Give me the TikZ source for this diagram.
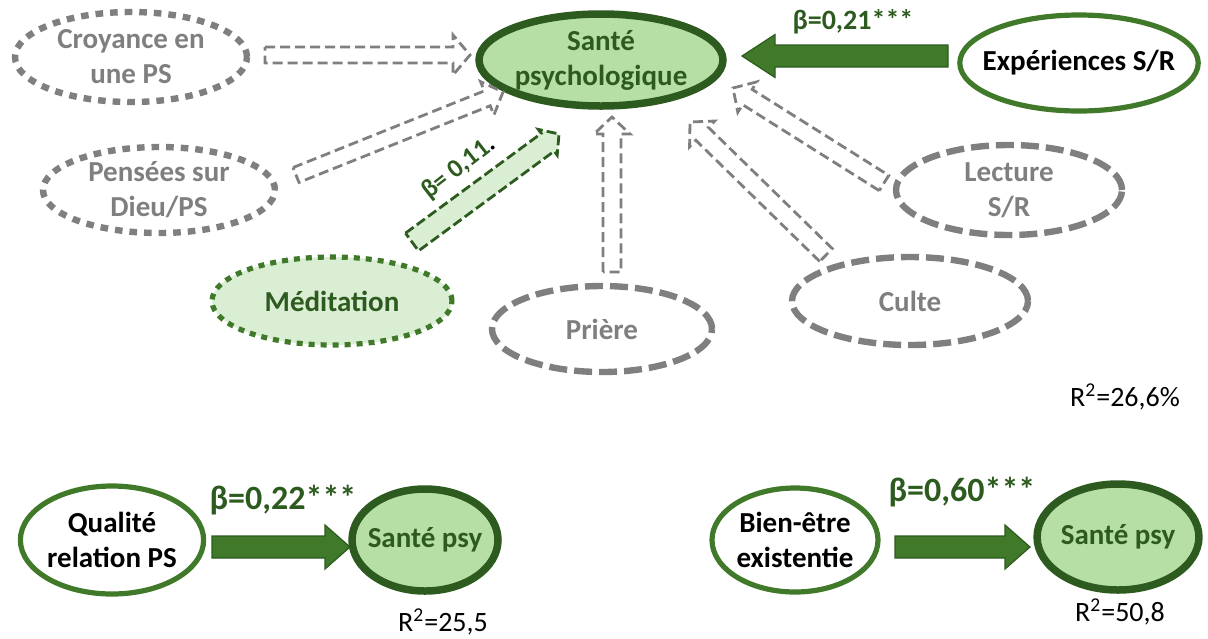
\documentclass[tikz,border=0pt]{standalone}
\usepackage{fontspec}
\setmainfont{Carlito}
\usetikzlibrary{calc,shapes.geometric}

\definecolor{darkgreen}{HTML}{2D5B1F}
\definecolor{midgreen}{HTML}{41792A}
\definecolor{palegreen}{HTML}{B6DFA6}
\definecolor{lightgreen}{HTML}{DAEED3}
\definecolor{faintgray}{HTML}{7F7F7F}

% block arrow: [style]{from}{to}{half shaft}{half head}{head length}
\newcommand{\blockarrow}[6][]{%
  \coordinate (ba-base) at ($(#3)!#6!(#2)$);
  \draw[#1] ($(#2)!#4!90:(#3)$) -- ($(ba-base)!#4!90:(#3)$) -- ($(ba-base)!#5!90:(#3)$)
    -- (#3) -- ($(ba-base)!#5!-90:(#3)$) -- ($(ba-base)!#4!-90:(#3)$) -- ($(#2)!#4!-90:(#3)$) -- cycle;}

\begin{document}
\begin{tikzpicture}[
    x=0.5pt, y=-0.5pt,
    var/.style={ellipse, inner sep=0pt, align=center, font=\bfseries\fontsize{14.5}{17.5}\selectfont},
    faintdots/.style={var, draw=faintgray, line width=3.2pt, dash pattern=on 3.8pt off 3.5pt, text=faintgray},
    faintdash/.style={var, draw=faintgray, line width=3.2pt, dash pattern=on 9pt off 3.5pt, text=faintgray},
    outcome/.style={var, draw=darkgreen, line width=3.75pt, fill=palegreen, text=darkgreen},
    predictor/.style={var, draw=midgreen, line width=2.6pt, fill=white},
    hollow/.style={draw=faintgray, line width=1.4pt, dash pattern=on 5pt off 2.5pt, fill=white},
    solidarr/.style={draw=darkgreen, fill=midgreen, line width=0.6pt},
    beta/.style={text=darkgreen, font=\bfseries\fontsize{14}{17}\selectfont},
    bigbeta/.style={text=darkgreen, font=\bfseries\fontsize{17}{20}\selectfont},
    rsq/.style={font=\fontsize{14}{17}\selectfont}
  ]
    \useasboundingbox (0,0) rectangle (1208,638);

    % top model
    \node[outcome, minimum width=116pt, minimum height=46pt]   (sante) at (601,60)  {Santé\\psychologique};
    \node[predictor, minimum width=119pt, minimum height=48pt, inner sep=-6pt] (exper) at (1079,63) {Expériences S/R};
    \node[faintdots, minimum width=116pt, minimum height=45pt] (croy)  at (131,57)  {Croyance en\\une PS};
    \node[faintdots, minimum width=116pt, minimum height=43pt] (pens)  at (159,190) {Pensées sur\\Dieu/PS};
    \node[var, draw=midgreen, line width=2.6pt, dash pattern=on 3pt off 3pt, fill=lightgreen, text=darkgreen,
          minimum width=120pt, minimum height=44pt]            (medi)  at (332,301) {Méditation};
    \node[faintdash, minimum width=110pt, minimum height=43pt] (priere) at (602,329) {Prière};
    \node[faintdash, minimum width=118pt, minimum height=44pt] (culte) at (910,301) {Culte};
    \node[faintdash, minimum width=113pt, minimum height=45pt] (lect)  at (1009,190) {Lecture\\S/R};

    \coordinate (croyT) at (265,55);   \coordinate (croyH) at (470,55);
    \coordinate (pensT) at (296,175);  \coordinate (pensH) at (503,92);
    \coordinate (mediT) at (412,242);  \coordinate (mediH) at (559,134);
    \coordinate (prieT) at (612,272);  \coordinate (prieH) at (612,117);
    \coordinate (culteT) at (826,255); \coordinate (culteH) at (690,122);
    \coordinate (lectT) at (884,183);  \coordinate (lectH) at (733,88);
    \coordinate (experT) at (948,56);  \coordinate (experH) at (742,56);

    \blockarrow[hollow]{croyT}{croyH}{4pt}{10pt}{8.5pt}
    \blockarrow[hollow]{pensT}{pensH}{4pt}{9pt}{8.5pt}
    \blockarrow[hollow]{prieT}{prieH}{4.5pt}{9pt}{8.5pt}
    \blockarrow[hollow]{culteT}{culteH}{4.5pt}{9pt}{8.5pt}
    \blockarrow[hollow]{lectT}{lectH}{4.5pt}{9pt}{8.5pt}
    \blockarrow[draw=darkgreen, fill=lightgreen, line width=1.4pt, dash pattern=on 5pt off 2pt]{mediT}{mediH}{5.5pt}{8pt}{7pt}
    \blockarrow[solidarr]{experT}{experH}{5.5pt}{10.75pt}{16.5pt}

    \node[beta] (b21) at (853,22) {β=0,21***};
    \node[beta, rotate=38, font=\bfseries\fontsize{13}{16}\selectfont] (b11) at (459,168) {β= 0,11\textcolor{black}{.}};
    \node[rsq] (r1) at (1125,397) {R\textsuperscript{2}=26,6\%};

    % bottom left model
    \node[predictor, minimum width=84pt, minimum height=54pt] (qual) at (112,540) {Qualité\\relation PS};
    \node[outcome, minimum width=73pt, minimum height=51pt, inner sep=-4pt] (santeA) at (425,540) {Santé psy};
    \coordinate (qualT) at (212,547); \coordinate (qualH) at (350,547);
    \blockarrow[solidarr]{qualT}{qualH}{5.5pt}{11pt}{12.5pt}
    \node[bigbeta] (b22) at (283,500) {β=0,22***};
    \node[rsq] (r2) at (443,622) {R\textsuperscript{2}=25,5};

    % bottom right model
    \node[predictor, minimum width=83pt, minimum height=52pt] (bien) at (795,540) {Bien-être\\existentie};
    \node[outcome, minimum width=80pt, minimum height=53pt] (santeB) at (1118,537) {Santé psy};
    \coordinate (bienT) at (895,547); \coordinate (bienH) at (1030,547);
    \blockarrow[solidarr]{bienT}{bienH}{5.5pt}{11pt}{12.5pt}
    \node[bigbeta] (b60) at (962,492) {β=0,60***};
    \node[rsq] (r3) at (1120,612) {R\textsuperscript{2}=50,8};
  \end{tikzpicture}
\end{document}
